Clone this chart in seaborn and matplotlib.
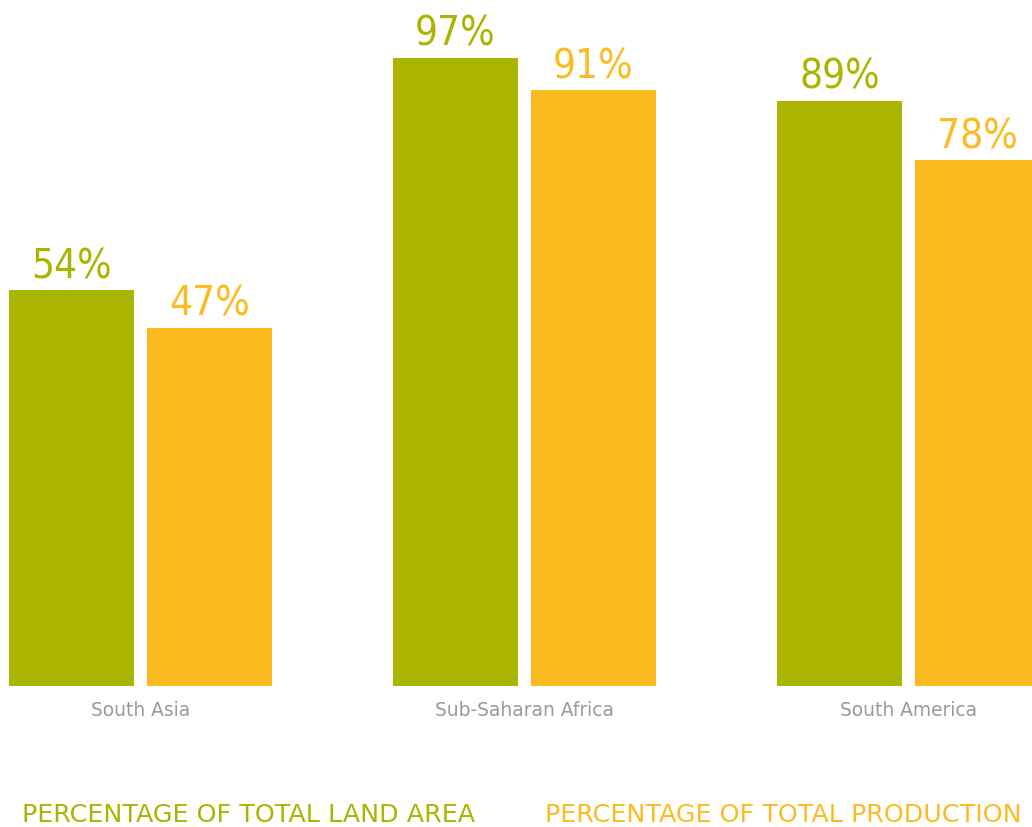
import matplotlib
matplotlib.use("Agg")
import matplotlib.pyplot as plt
import seaborn as sns
import pandas as pd

categories = ["South Asia", "Sub-Saharan Africa", "South America"]
land_area = [54, 97, 89]
production = [47, 91, 78]
series_names = ["PERCENTAGE OF TOTAL LAND AREA", "PERCENTAGE OF TOTAL PRODUCTION"]

GREEN = "#ABB400"
ORANGE = "#FCBB21"
GRAY = "#999999"
BASE = -19.25

df = pd.DataFrame({
    "region": categories * 2,
    "value": land_area + production,
    "series": [series_names[0]] * 3 + [series_names[1]] * 3,
})

sns.set_theme(style="white")
plt.rcParams["font.family"] = ["DejaVu Sans"]

fig = plt.figure(figsize=(10.32, 8.27), dpi=100)
ax = fig.add_axes([0, (827 - 686) / 827, 1, 686 / 827])

sns.barplot(data=df, x="region", y="value", hue="series", order=categories,
            hue_order=series_names, palette=[GREEN, ORANGE], saturation=1,
            width=0.719, gap=0.094, legend=False, ax=ax, edgecolor="none", linewidth=0)

for cont, vals, col in zip(ax.containers, [land_area, production], [GREEN, ORANGE]):
    for p, v in zip(cont.patches, vals):
        h = p.get_height()
        p.set_y(BASE)
        p.set_height(h - BASE)
        ax.annotate(f"{v}%", (p.get_x() + p.get_width() / 2, h),
                    xytext=(0, 8.6), textcoords="offset points",
                    ha="center", va="baseline", color=col, fontsize=29,
                    family="DejaVu Sans", fontstretch="condensed")

ax.set_xlim(-140.5 / 384, (1032 - 140.5) / 384)
ax.set_ylim(BASE, BASE + 686 / 5.406)
ax.set_xlabel("")
ax.set_ylabel("")
ax.set_yticks([])
for s in ax.spines.values():
    s.set_visible(False)
ax.tick_params(axis="x", length=0, pad=10.5, labelsize=13.4, labelcolor=GRAY)

fig.text(22 / 1032, 5 / 827, series_names[0], color=GREEN, fontsize=18.3,
         va="baseline", ha="left")
fig.text(545 / 1032, 5 / 827, series_names[1], color=ORANGE, fontsize=18.3,
         va="baseline", ha="left")

fig.savefig("out.png", dpi=100, facecolor="white")
